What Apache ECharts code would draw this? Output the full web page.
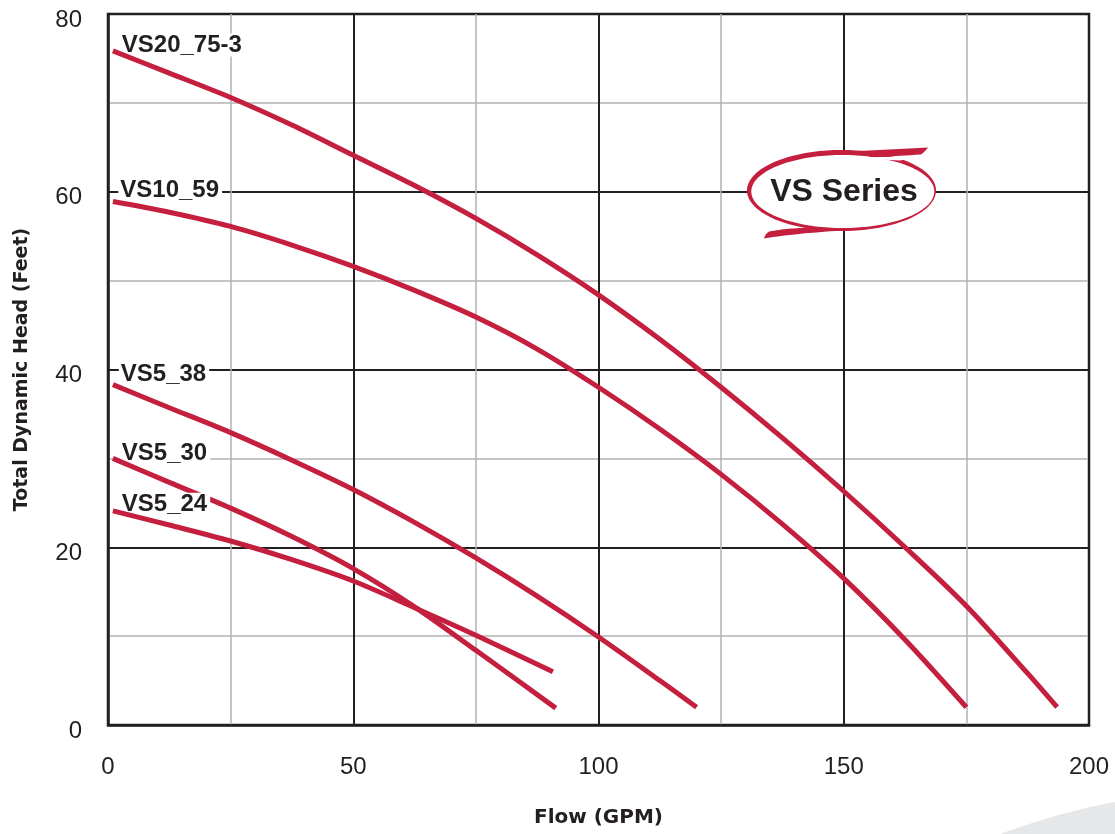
<!DOCTYPE html>
<html>
<head>
<meta charset="utf-8">
<script src="https://cdn.jsdelivr.net/npm/echarts@6/dist/echarts.min.js"></script>
<style>html,body{margin:0;padding:0;background:#fff;}#c{width:1115px;height:834px;}</style>
</head>
<body>
<div id="c"></div>
<script>
// Pump curves: [flow GPM, head feet]
const vs20_75_3 = [[1,75.85],[12.5,73.35],[25,70.6],[37.5,67.5],[50,64.1],[62.5,60.7],[75,57.0],[87.5,52.9],[100,48.4],[112.5,43.4],[125,38.0],[137.5,32.3],[150,26.3],[162.5,20.0],[175,13.4],[187.5,5.8],[193.5,2.0]];
const vs10_59   = [[1,58.9],[12.5,57.7],[25,56.1],[37.5,54.0],[50,51.6],[62.5,48.9],[75,45.9],[87.5,42.3],[100,38.0],[112.5,33.3],[125,28.2],[137.5,22.6],[150,16.5],[162.5,9.6],[175,2.0]];
const vs5_38    = [[1,38.3],[12.5,35.7],[25,32.9],[37.5,29.8],[50,26.5],[62.5,22.8],[75,18.8],[87.5,14.5],[100,9.9],[112.5,5.0],[120,2.0]];
const vs5_30    = [[1,30.0],[12.5,27.3],[25,24.4],[37.5,21.2],[50,17.6],[62.5,13.3],[75,8.4],[91.3,1.9]];
const vs5_24    = [[1,24.1],[12.5,22.5],[25,20.7],[37.5,18.6],[50,16.2],[62.5,13.2],[75,10.1],[90.7,6.0]];

const seriesNames = ['VS20_75-3','VS10_59','VS5_38','VS5_30','VS5_24'];
const seriesData = [vs20_75_3, vs10_59, vs5_38, vs5_30, vs5_24];
// label anchor (left-middle of label box) in data units
const labelAnchors = [[2.3,76.5],[2.0,60.15],[2.1,39.4],[2.3,30.55],[2.3,24.85]];

const xTicks = [0,50,100,150,200];
const yTicks = [0,20,40,60,80];

const RED = '#c41f3e';
const DARK = '#231f20';
const FONT = '"Liberation Sans", Arial, sans-serif';
const TITLE_FONT = '"DejaVu Sans", "Liberation Sans", sans-serif';

// helpers for the logo decoration
function quad(p0, c, p1, n) {
  const pts = [];
  for (let i = 0; i <= n; i++) {
    const t = i / n, u = 1 - t;
    pts.push([u*u*p0[0] + 2*u*t*c[0] + t*t*p1[0], u*u*p0[1] + 2*u*t*c[1] + t*t*p1[1]]);
  }
  return pts;
}
function ellipsePts(cx, cy, rx, ry, n) {
  const pts = [];
  for (let i = 0; i < n; i++) {
    const a = 2 * Math.PI * i / n;
    pts.push([cx + rx * Math.cos(a), cy + ry * Math.sin(a)]);
  }
  return pts;
}
const swooshTop = quad([858,151],[895,149],[928,147.5],14).concat(quad([928,147.5],[925,151.5],[921,154.5],4).slice(1)).concat(quad([921,154.5],[895,156.3],[870,157],10).slice(1));
const swooshBot = quad([836,231],[795,233.5],[764,238.5],14).concat(quad([764,238.5],[765,234],[769,231.5],4).slice(1)).concat(quad([769,231.5],[792,227],[822,228],10).slice(1));
const gapTop = quad([870,157.3],[897,156.8],[921,155.2],10).concat(quad([921,155.2],[912,158],[900,160.5],4).slice(1)).concat(quad([900,160.5],[885,159.5],[872,159],6).slice(1));
const graySwoosh = quad([1000,834],[1060,812],[1115,802],16).concat([[1115,834]]);

const chart = echarts.init(document.getElementById('c'));
const series = seriesData.map((d,i)=>{
  const last = i === seriesData.length - 1;
  return {
    name: seriesNames[i],
    type: 'line',
    data: d,
    smooth: 0.3,
    showSymbol: false,
    symbol: 'none',
    lineStyle: {color: RED, width: 5, cap: 'butt'},
    z: last ? 5 : 3,
    markPoint: {
      z: last ? 4 : 2,
      symbol: 'circle',
      symbolSize: 1,
      itemStyle: {color: 'rgba(0,0,0,0)'},
      label: {
        show: true,
        position: 'right',
        distance: 0,
        formatter: seriesNames[i],
        fontFamily: FONT,
        fontWeight: 'bold',
        fontSize: 24,
        lineHeight: 18,
        color: DARK,
        backgroundColor: '#fff',
        padding: [5,3,0,2]
      },
      data: [{coord: labelAnchors[i]}]
    }
  };
});

chart.setOption({
  animation: false,
  backgroundColor: '#fff',
  grid: {left: 108, right: 26, top: 14, bottom: 109, show: true, borderColor: DARK, borderWidth: 2.5, backgroundColor: 'transparent'},
  xAxis: {
    type: 'value', min: 0, max: 200, interval: 50,
    name: 'Flow (GPM)', nameLocation: 'middle', nameGap: 83,
    nameTextStyle: {fontFamily: TITLE_FONT, fontWeight: 'bold', fontSize: 20, color: DARK},
    axisLine: {show: true, lineStyle: {color: DARK, width: 2.5}},
    axisTick: {show: false},
    axisLabel: {margin: 30, fontFamily: FONT, fontSize: 24, color: DARK,
      formatter: v => xTicks.includes(v) ? String(v) : ''},
    splitLine: {show: true, lineStyle: {color: DARK, width: 2}},
    minorTick: {show: false, splitNumber: 2},
    minorSplitLine: {show: true, lineStyle: {color: '#b3b3b3', width: 1.5}}
  },
  yAxis: {
    type: 'value', min: 0, max: 80, interval: 20,
    name: 'Total Dynamic Head (Feet)', nameLocation: 'middle', nameGap: 76,
    nameTextStyle: {fontFamily: TITLE_FONT, fontWeight: 'bold', fontSize: 19, color: DARK},
    axisLine: {show: true, lineStyle: {color: DARK, width: 2.5}},
    axisTick: {show: false},
    axisLabel: {margin: 26, fontFamily: FONT, fontSize: 24, color: DARK, verticalAlign: 'top', lineHeight: 12,
      formatter: v => yTicks.includes(v) ? String(v) : ''},
    splitLine: {show: true, lineStyle: {color: DARK, width: 2}},
    minorTick: {show: false, splitNumber: 2},
    minorSplitLine: {show: true, lineStyle: {color: '#b3b3b3', width: 1.5}}
  },
  series: series,
  graphic: [
    {type: 'polygon', z: 1, shape: {points: graySwoosh}, style: {fill: '#e6e7e8'}},
    {type: 'polygon', z: 10, shape: {points: ellipsePts(841.5,190.5,94.5,40.5,160)}, style: {fill: RED}},
    {type: 'polygon', z: 10, shape: {points: ellipsePts(842.8,191.5,91.5,36.5,160)}, style: {fill: '#fff'}},
    {type: 'polygon', z: 11, shape: {points: gapTop}, style: {fill: '#fff'}},
    {type: 'polygon', z: 11, shape: {points: swooshTop}, style: {fill: RED}},
    {type: 'polygon', z: 11, shape: {points: swooshBot}, style: {fill: RED}},
    {type: 'text', z: 12, x: 844, y: 192, style: {text: 'VS Series', align: 'center', verticalAlign: 'middle',
      font: 'bold 32px ' + FONT, fill: DARK}}
  ]
});
</script>
</body>
</html>
